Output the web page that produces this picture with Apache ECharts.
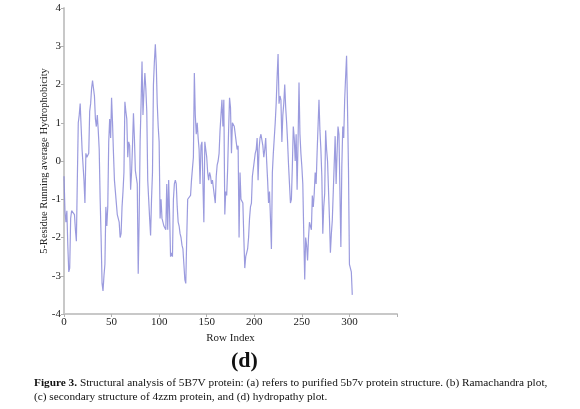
<!DOCTYPE html>
<html>
<head>
<meta charset="utf-8">
<script src="https://cdn.jsdelivr.net/npm/echarts@6/dist/echarts.min.js"></script>
<style>
  html, body { margin: 0; padding: 0; background: #fff; }
  #main { width: 580px; height: 409px; }
</style>
</head>
<body>
<div id="main"></div>
<script>
// 5-residue running average hydrophobicity, one value per row index (0..303)
const hydro = [
  -0.4, -1.3, -1.6, -1.3, -2.2, -2.9, -2.8, -1.5, -1.3, -1.35,
  -1.35, -1.4, -1.8, -2.1, -0.5, 1.0, 1.2, 1.5, 0.9, 0.3,
  0.35, -0.5, -1.1, 0.2, 0.1, 0.05, 0.2, 1.3, 1.5, 1.9,
  2.1, 1.9, 1.7, 1.1, 0.9, 1.2, 0.8, 0.3, -1.0, -2.0,
  -3.2, -3.4, -3.0, -2.7, -1.2, -1.7, -1.2, 0.5, 1.1, 0.6,
  1.65, 1.0, 0.2, -0.5, -0.55, -0.5, -1.4, -1.5, -1.6, -2.0,
  -1.9, -1.2, -0.8, -0.3, 1.55, 1.3, 1.1, 0.1, 0.5, 0.4,
  -0.75, -0.3, 0.4, 1.25, 0.6, -0.25, -0.3, -0.6, -2.95, -1.5,
  0.5, 1.5, 2.6, 1.2, 1.8, 2.3, 1.9, 1.3, -0.5, -1.0,
  -1.5, -1.95, -1.0, -0.3, 2.0, 2.6, 3.05, 2.5, 1.5, 0.9,
  0.5, -1.5, -1.0, -1.5, -1.6, -1.7, -1.75, -1.8, -0.6, -1.8,
  -0.5, -1.4, -2.5, -2.4, -2.5, -1.0, -0.6, -0.5, -0.6, -1.2,
  -1.6, -1.7, -1.9, -2.0, -2.2, -2.3, -2.7, -3.1, -3.2, -2.0,
  -1.0, -1.0, -1.0, -0.9, -0.5, -0.2, 0.1, 2.3, 1.2, 0.7,
  1.0, 0.6, 0.3, -0.6, 0.4, 0.5, 0.5, -1.6, 0.5, 0.3,
  0.1, -0.3, -0.5, -0.3, -0.4, -0.6, -0.5, -0.7, -0.9, -1.1,
  -0.4, -0.1, 0.0, 0.2, 0.8, 1.2, 1.6, 0.9, 1.6, -1.4,
  -0.8, -0.9, -0.2, 0.8, 1.65, 1.4, 0.2, 1.0, 1.0, 0.9,
  0.7, 0.5, 0.3, 0.4, -2.0, -0.3, -1.0, -1.05, -1.1, -2.0,
  -2.8, -2.5, -2.4, -2.3, -2.0, -1.5, -1.2, -1.1, -0.4, -0.2,
  0.0, 0.2, 0.3, 0.6, -0.5, 0.3, 0.6, 0.7, 0.7, 0.4,
  0.1, 0.3, 0.6, 0.0, -0.5, -1.1, -0.8, -1.5, -2.3, -0.3,
  0.2, 0.6, 1.0, 1.5, 2.2, 2.8, 1.5, 1.7, 1.6, 0.5,
  1.2, 1.5, 2.0, 1.4, 1.0, 0.5, -0.1, -0.6, -1.1, -1.0,
  -0.15, 0.9, 0.6, 0.0, 0.7, -0.75, 0.5, 2.05, 0.7, 0.2,
  -0.15, -0.6, -1.9, -3.1, -2.0, -2.2, -2.6, -2.0, -1.6, -1.7,
  -1.8, -0.9, -1.2, -0.85, -0.3, -0.6, 0.2, 0.9, 1.6, 0.8,
  0.3, -0.4, -1.9, -1.2, -0.85, 0.8, 0.3, 0.0, 0.0, -1.5,
  -2.4, -1.9, -1.55, -1.6, -1.5, 0.65, -0.6, 0.2, 0.9, 0.7,
  0.7, -2.25, -0.15, 0.9, 0.6, 1.6, 2.2, 2.75, 1.35, -0.2,
  -2.7, -2.8, -2.9, -3.5
];
const xTicks = [0, 50, 100, 150, 200, 250, 300];
const yTicks = [-4, -3, -2, -1, 0, 1, 2, 3, 4];

const serif = "Liberation Serif";
let myChart = echarts.init(document.getElementById("main"));

let option = {
  animation: false,
  grid: { left: 64, right: 183, top: 8, bottom: 95 },
  xAxis: {
    type: "value",
    min: 0,
    max: 350,
    interval: 50,
    name: "Row Index",
    nameLocation: "middle",
    nameGap: 17,
    nameTextStyle: { fontFamily: serif, fontSize: 11, color: "#222" },
    axisLine: { onZero: false, lineStyle: { color: "#c8c8c8", width: 2 } },
    axisTick: { length: 3, lineStyle: { color: "#b0b0b0" } },
    axisLabel: {
      fontFamily: serif, fontSize: 11, color: "#222", margin: 3,
      formatter: v => (xTicks.indexOf(v) >= 0 ? String(v) : "")
    },
    splitLine: { show: false }
  },
  yAxis: {
    type: "value",
    min: -4,
    max: 4,
    interval: 1,
    name: "5-Residue Running average Hydrophobicity",
    nameLocation: "middle",
    nameGap: 14,
    nameMoveOverlap: false,
    nameTextStyle: { fontFamily: serif, fontSize: 10.5, color: "#222" },
    axisLine: { show: true, onZero: false, lineStyle: { color: "#c8c8c8", width: 2 } },
    axisTick: { show: true, length: 3, lineStyle: { color: "#b0b0b0" } },
    axisLabel: {
      fontFamily: serif, fontSize: 11, color: "#222", margin: 3,
      formatter: v => (yTicks.indexOf(v) >= 0 ? String(v) : "")
    },
    splitLine: { show: false }
  },
  series: [
    {
      type: "line",
      data: hydro.map((v, i) => [i, v]),
      showSymbol: false,
      lineStyle: { color: "#8a8ad8", width: 1.2, opacity: 0.85 }
    }
  ],
  graphic: [
    {
      type: "text",
      left: 231, top: 350,
      style: {
        text: "(d)",
        font: "bold 22px 'Liberation Serif'",
        fill: "#111"
      }
    },
    {
      type: "text",
      left: 34, top: 376,
      style: {
        text: "{b|Figure 3.} Structural analysis of 5B7V protein: (a) refers to purified 5b7v protein structure. (b) Ramachandra plot,\n(c) secondary structure of 4zzm protein, and (d) hydropathy plot.",
        font: "11.3px 'Liberation Serif'",
        fill: "#111",
        lineHeight: 14,
        rich: {
          b: { fontWeight: "bold", fontFamily: serif, fontSize: 11.3, fill: "#111", lineHeight: 14 }
        }
      }
    }
  ]
};

myChart.setOption(option);
</script>
</body>
</html>
